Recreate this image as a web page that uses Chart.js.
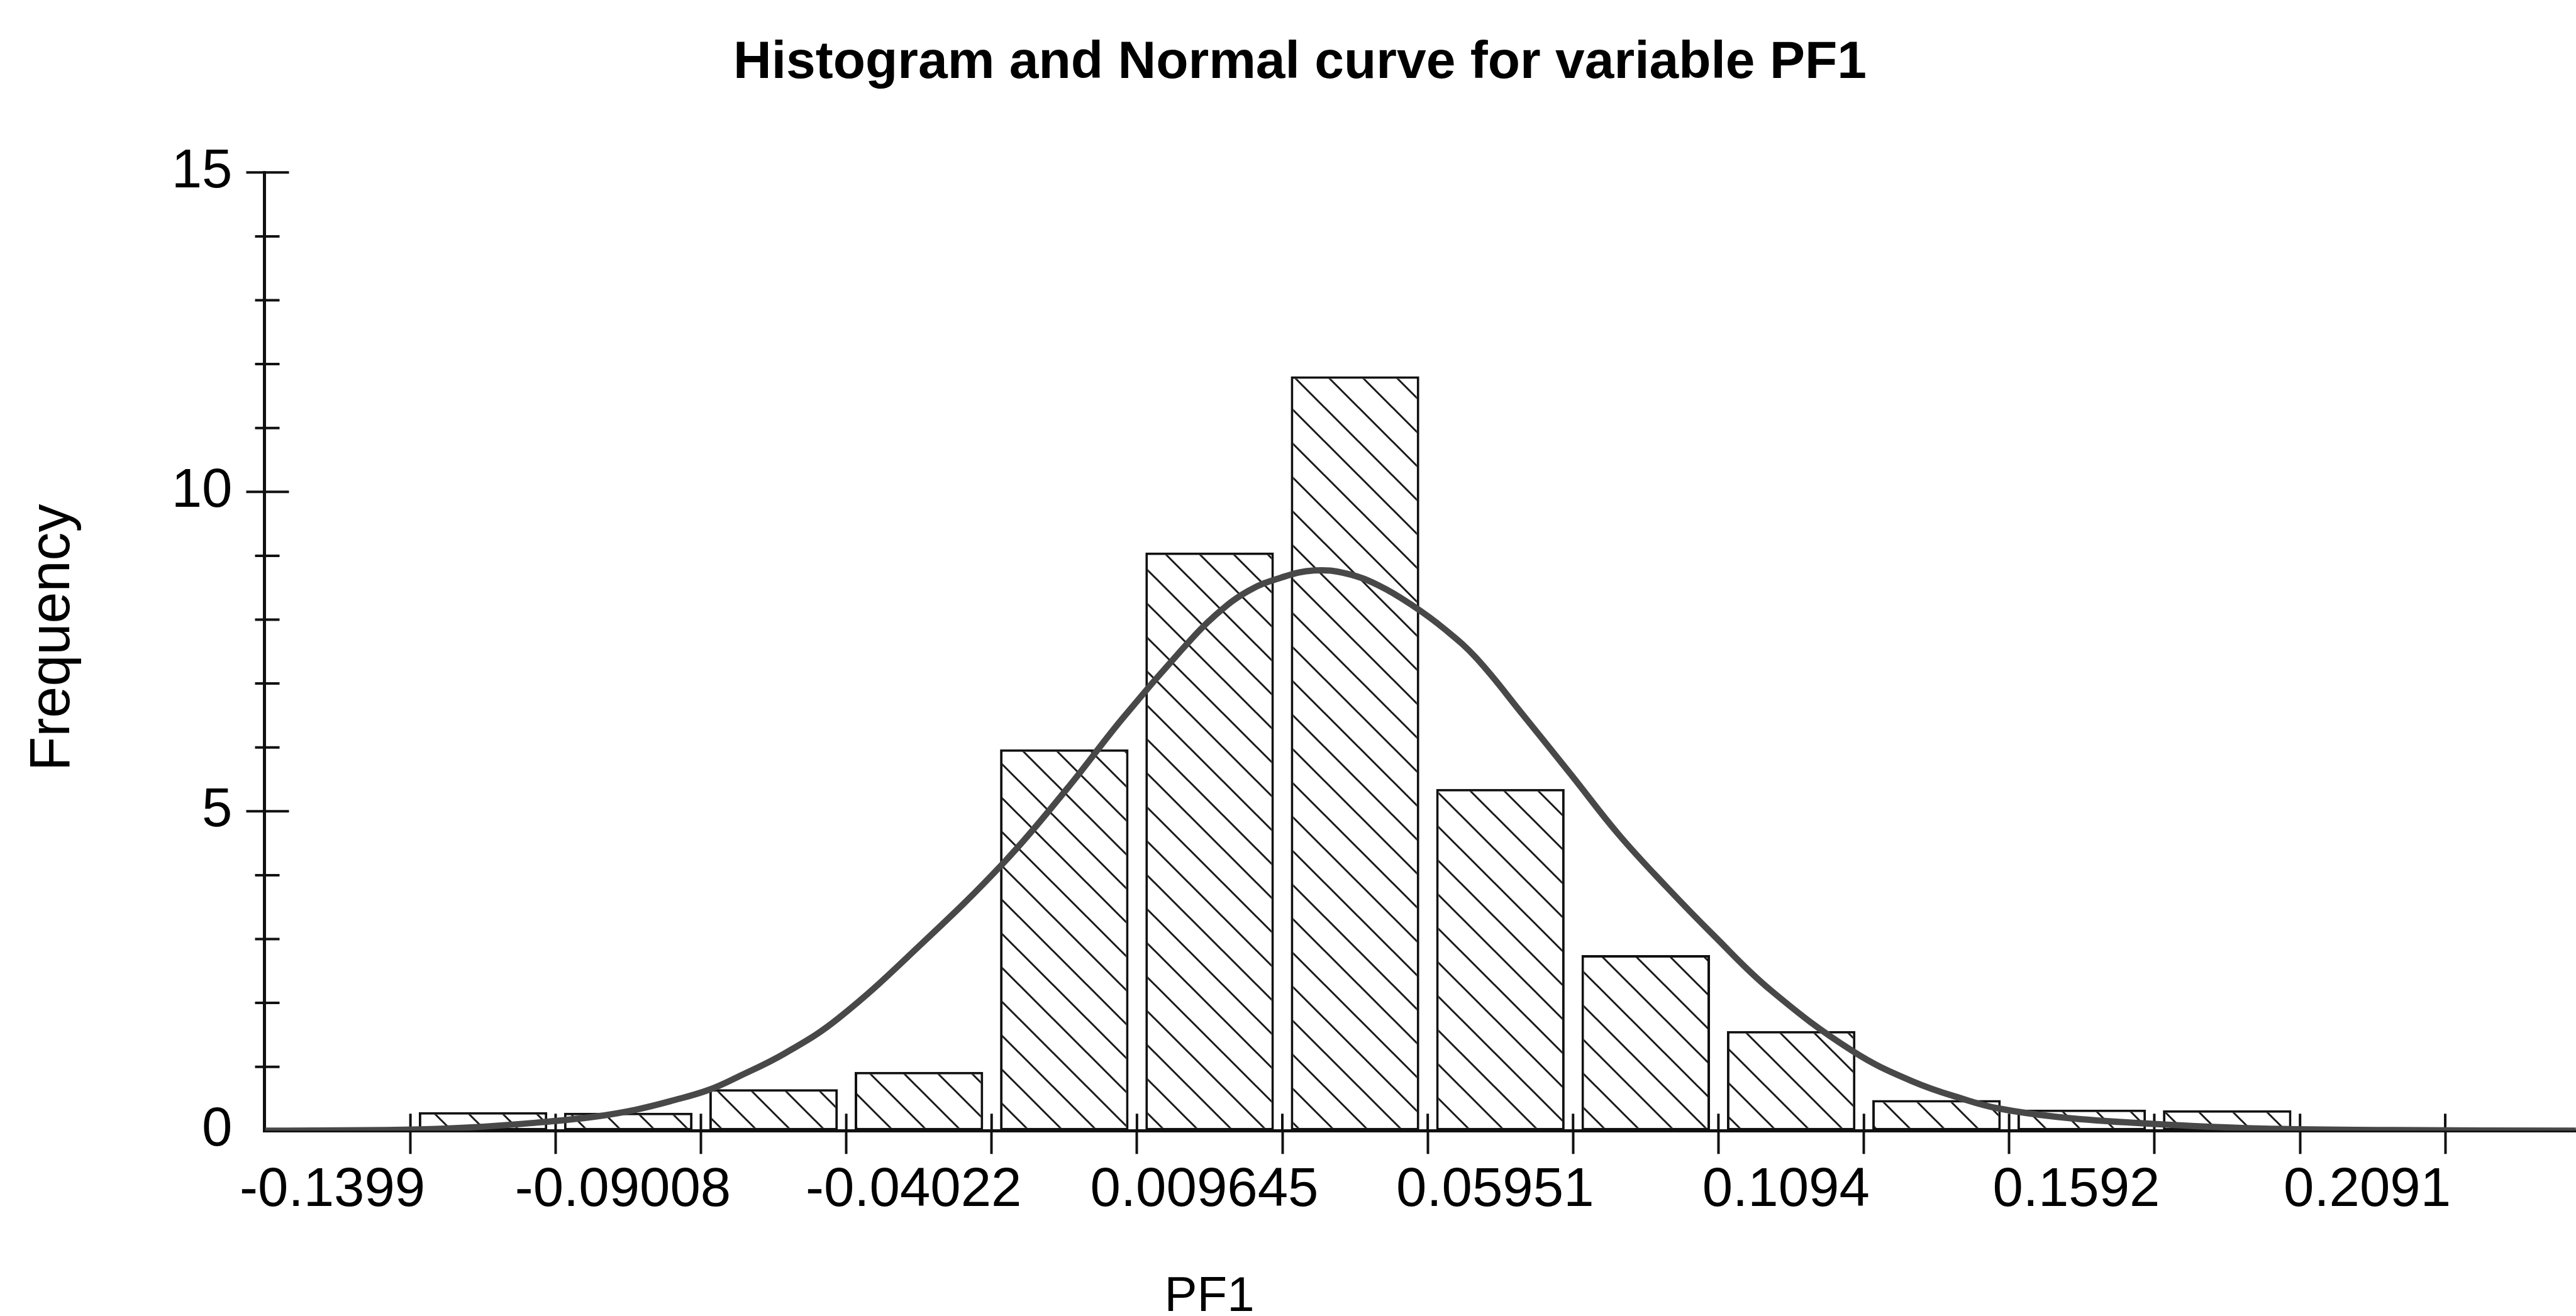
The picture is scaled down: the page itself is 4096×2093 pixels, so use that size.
<!DOCTYPE html>
<html>
<head>
<meta charset="utf-8">
<title>Histogram and Normal curve for variable PF1</title>
<script src="https://cdn.jsdelivr.net/npm/chart.js@4.4.1/dist/chart.umd.min.js"></script>
<style>
  html, body { margin: 0; padding: 0; background: #fff; }
  canvas { display: block; }
</style>
</head>
<body>
<canvas id="histChart" width="4096" height="2093"></canvas>
<script>
// bin edges along the PF1 axis (every other one is labelled)
const binEdges = [-0.1399, -0.1150, -0.09008, -0.06515, -0.04022, -0.01529, 0.009645,
                  0.03458, 0.05951, 0.08444, 0.1094, 0.1343, 0.1592, 0.1842, 0.2091];
const xTickLabels = ['-0.1399', '', '-0.09008', '', '-0.04022', '', '0.009645', '',
                     '0.05951', '', '0.1094', '', '0.1592', '', '0.2091'];

// bar heights, one per bin starting at binEdges[0]
const frequencies = [0.29, 0.28, 0.65, 0.92, 5.97, 9.05, 11.81, 5.35, 2.75, 1.56, 0.48, 0.33, 0.32];

// normal curve
const curveX = [-0.1648, -0.1409, -0.1300, -0.1191, -0.1083, -0.1012, -0.0946, -0.0887, -0.0838,
                -0.0757, -0.0665, -0.0523, -0.0380, -0.0274, -0.0178, -0.0074, -0.0017, 0.0038,
                0.0095, 0.0151, 0.0207, 0.0263, 0.0320, 0.0375, 0.0429, 0.0510, 0.0592, 0.0673,
                0.0755, 0.0836, 0.0934, 0.1074, 0.1178, 0.1270, 0.1324, 0.1422, 0.1545, 0.1750,
                0.2000, 0.2315];
const curveY = [0, 0.015, 0.05, 0.12, 0.22, 0.33, 0.48, 0.64, 0.84,
                1.21, 1.76, 2.92, 4.21, 5.34, 6.45, 7.55, 8.08, 8.45,
                8.66, 8.77, 8.72, 8.53, 8.22, 7.85, 7.40, 6.50, 5.57, 4.64,
                3.82, 3.06, 2.20, 1.25, 0.77, 0.48, 0.35, 0.22, 0.13, 0.04,
                0.01, 0];

const yMinorTicks = [1, 2, 3, 4, 6, 7, 8, 9, 11, 12, 13, 14];
const yMajorTicks = [5, 10, 15];

const chartTitle = 'Histogram and Normal curve for variable PF1';
const xTitle = 'PF1';
const yTitle = 'Frequency';

const FONT = '"Liberation Sans", Arial, sans-serif';

let ctx = document.getElementById('histChart').getContext('2d');

// back-slash hatching for the bars
function makeHatch(size) {
    const c = document.createElement('canvas');
    c.width = size;
    c.height = size;
    const g = c.getContext('2d');
    g.fillStyle = '#fff';
    g.fillRect(0, 0, size, size);
    g.strokeStyle = '#1a1a1a';
    g.lineWidth = 3;
    g.beginPath();
    for (const k of [-size, 0, size]) {
        g.moveTo(k - 3, -3);
        g.lineTo(k + size + 3, size + 3);
    }
    g.stroke();
    return ctx.createPattern(c, 'repeat');
}

// tick marks that cross the axes, plus the two axis titles
const axisDecor = {
    id: 'axisDecor',
    beforeDatasetsDraw(chart) {
        const { ctx, chartArea, scales: { x, y } } = chart;
        ctx.save();
        ctx.strokeStyle = '#111';
        ctx.lineWidth = 4;
        ctx.beginPath();
        yMinorTicks.forEach(v => {
            const py = y.getPixelForValue(v);
            ctx.moveTo(chartArea.left - 15, py);
            ctx.lineTo(chartArea.left + 24, py);
        });
        yMajorTicks.forEach(v => {
            const py = y.getPixelForValue(v);
            ctx.moveTo(chartArea.left - 29, py);
            ctx.lineTo(chartArea.left + 39, py);
        });
        binEdges.forEach(v => {
            const px = x.getPixelForValue(v);
            ctx.moveTo(px, chartArea.bottom);
            ctx.lineTo(px, chartArea.bottom - 27);
        });
        ctx.stroke();
        ctx.restore();
    },
    afterDraw(chart) {
        const { ctx } = chart;
        ctx.save();
        ctx.fillStyle = '#000';
        ctx.textAlign = 'center';
        ctx.textBaseline = 'alphabetic';
        ctx.font = '90px ' + FONT;
        ctx.translate(110, 1014);
        ctx.rotate(-Math.PI / 2);
        ctx.fillText(yTitle, 0, 0);
        ctx.restore();

        ctx.save();
        ctx.fillStyle = '#000';
        ctx.textAlign = 'center';
        ctx.textBaseline = 'alphabetic';
        ctx.font = '78px ' + FONT;
        ctx.fillText(xTitle, 1923, 2085);
        ctx.restore();
    }
};

const curvePoints = curveX.map((x, i) => ({ x: x, y: curveY[i] }));
const barPoints = frequencies.map((f, i) => ({ x: (binEdges[i] + binEdges[i + 1]) / 2, y: f }));

let chart = new Chart(ctx, {
    type: 'bar',
    data: {
        datasets: [
            {
                type: 'line',
                label: 'Normal curve',
                data: curvePoints,
                borderColor: '#484848',
                borderWidth: 10,
                pointRadius: 0,
                tension: 0.4,
                fill: false,
                order: 0
            },
            {
                label: 'Frequency',
                data: barPoints,
                backgroundColor: makeHatch(54),
                borderColor: '#111',
                borderWidth: 4,
                borderSkipped: false,
                categoryPercentage: 1,
                barPercentage: 0.885,
                order: 1
            }
        ]
    },
    options: {
        responsive: false,
        animation: false,
        layout: { padding: { left: 38, right: 0, top: 0, bottom: 0 } },
        plugins: {
            legend: { display: false },
            tooltip: { enabled: false },
            title: {
                display: true,
                text: chartTitle,
                color: '#000',
                font: { family: FONT, size: 84, weight: 'bold', lineHeight: 1.2 },
                padding: { top: 50.5, bottom: 123 }
            }
        },
        scales: {
            x: {
                type: 'linear',
                min: -0.16494,
                max: 0.23153,
                offset: false,
                afterBuildTicks: s => { s.ticks = binEdges.map(v => ({ value: v })); },
                afterFit: s => { s.height = 294.7; },
                grid: { drawOnChartArea: false, drawTicks: true, tickLength: 37, tickWidth: 4, tickColor: '#111', offset: false },
                border: { display: true, color: '#111', width: 5 },
                ticks: {
                    autoSkip: false,
                    maxRotation: 0,
                    minRotation: 0,
                    labelOffset: -124,
                    padding: 7,
                    color: '#000',
                    font: { family: FONT, size: 87 },
                    callback: (v, i) => xTickLabels[i]
                }
            },
            y: {
                min: 0,
                max: 15,
                afterFit: s => { s.width = 382.5; },
                grid: { drawOnChartArea: false, drawTicks: false },
                border: { display: true, color: '#111', width: 5 },
                ticks: {
                    stepSize: 5,
                    padding: 51,
                    color: '#000',
                    font: { family: FONT, size: 87 }
                }
            }
        }
    },
    plugins: [axisDecor]
});
</script>
</body>
</html>
